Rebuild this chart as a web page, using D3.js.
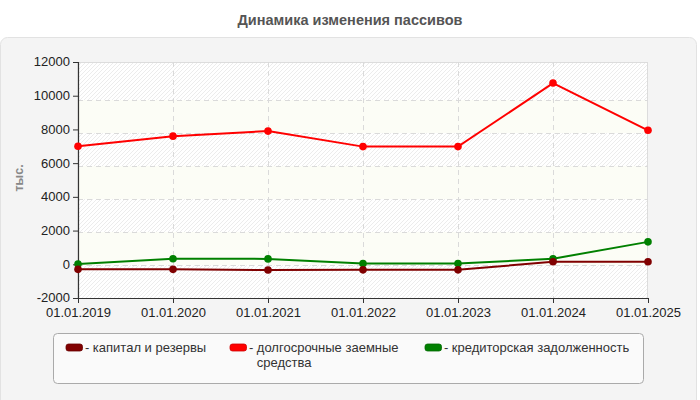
<!DOCTYPE html>
<html><head><meta charset="utf-8">
<script src="https://cdn.jsdelivr.net/npm/d3@7"></script>
<style>body{margin:0;background:#fff;}svg{display:block;font-family:"Liberation Sans",Arial,sans-serif;}</style>
</head><body><svg id="c" width="700" height="400"></svg>
<script>
const categories = ["01.01.2019","01.01.2020","01.01.2021","01.01.2022","01.01.2023","01.01.2024","01.01.2025"];
const capital = [-300, -300, -340, -330, -330, 150, 150];
const longTerm = [7000, 7600, 7900, 6980, 6980, 10750, 7950];
const payables = [20, 330, 320, 40, 40, 330, 1330];
const seriesNames = ["капитал и резервы", "долгосрочные заемные средства", "кредиторская задолженность"];
const seriesColors = ["#800000", "#ff0000", "#008000"];
const yTicks = [-2000, 0, 2000, 4000, 6000, 8000, 10000, 12000];
const title = "Динамика изменения пассивов";
const yLabel = "тыс.";

const svg = d3.select("#c");
const defs = svg.append("defs");
const pat = defs.append("pattern").attr("id","hatch").attr("patternUnits","userSpaceOnUse")
  .attr("width",4).attr("height",4);
pat.append("rect").attr("width",4).attr("height",4).attr("fill","#ffffff");
pat.append("path").attr("d","M-1,1 l2,-2 M0,4 l4,-4 M3,5 l2,-2").attr("stroke","#ececec").attr("stroke-width",1);

// outer panel
svg.append("rect").attr("x",0.5).attr("y",37.5).attr("width",696).attr("height",370).attr("rx",7)
  .attr("fill","#f4f4f4").attr("stroke","#e2e2e2");
svg.append("text").attr("x",350).attr("y",25).attr("text-anchor","middle")
  .attr("font-size",14.5).attr("font-weight","bold").attr("fill","#555").text(title);

const L=78, R=648, T=62, B=298;
const x = d3.scalePoint().domain(categories).range([L,R]);
const y = d3.scaleLinear().domain([-2000,12000]).range([B,T]);

// bands (grid step quirk of the original)
const step = Math.floor((B-T)/7);
const gridY = d3.range(1,7).map(k => B - k*step);
const bandEdges = [B, ...gridY, T];
for (let i=0;i<bandEdges.length-1;i++){
  svg.append("rect").attr("x",L).attr("y",bandEdges[i+1]).attr("width",R-L).attr("height",bandEdges[i]-bandEdges[i+1])
    .attr("fill", i%2===0 ? "url(#hatch)" : "#fcfdf6");
}
svg.append("rect").attr("x",L).attr("y",T+0.5).attr("width",R-L-0.5).attr("height",B-T).attr("fill","none").attr("stroke","#dcdcdc");

// grid
svg.append("g").selectAll("line").data(gridY).join("line")
  .attr("x1",L).attr("x2",R).attr("y1",d=>d+0.5).attr("y2",d=>d+0.5)
  .attr("stroke","#dadada").attr("stroke-dasharray","5,4");
svg.append("g").selectAll("line").data(categories.slice(1,-1)).join("line")
  .attr("x1",d=>x(d)+0.5).attr("x2",d=>x(d)+0.5).attr("y1",T).attr("y2",B)
  .attr("stroke","#dadada").attr("stroke-dasharray","5,4");

// axes
const ya = svg.append("g").attr("transform",`translate(${L},0)`)
  .call(d3.axisLeft(y).tickValues(yTicks).tickSize(5).tickPadding(3).tickFormat(d=>String(d)));
const xa = svg.append("g").attr("transform",`translate(0,${B})`)
  .call(d3.axisBottom(x).tickSize(5).tickPadding(5));
[ya,xa].forEach(a=>{
  a.select(".domain").attr("stroke","#333").attr("stroke-width",1.2);
  a.selectAll(".tick line").attr("stroke","#333");
  a.selectAll("text").attr("font-size",13).attr("fill","#222").attr("font-family","Liberation Sans, Arial, sans-serif");
});
xa.select(".domain").attr("d",`M${L},0.5H${R}`);
ya.select(".domain").attr("d",`M0.5,${T}V${B}`);
ya.selectAll(".tick text").attr("dy","0.3em");

svg.append("text").attr("transform","translate(23,178) rotate(-90)").attr("text-anchor","middle")
  .attr("font-size",12.5).attr("font-weight","bold").attr("fill","#888").text(yLabel);

// series
const all = [capital, longTerm, payables];
const line = d3.line().x((d,i)=>x(categories[i])).y(d=>y(d));
[payables, capital, longTerm].forEach(s=>{
  const idx = all.indexOf(s);
  const g = svg.append("g");
  g.append("path").datum(s).attr("d",line).attr("fill","none").attr("stroke",seriesColors[idx]).attr("stroke-width",2);
  g.selectAll("circle").data(s).join("circle").attr("cx",(d,i)=>x(categories[i])).attr("cy",d=>y(d))
    .attr("r",3.8).attr("fill",seriesColors[idx]);
});

// legend
svg.append("rect").attr("x",53.5).attr("y",333.5).attr("width",590).attr("height",50).attr("rx",4)
  .attr("fill","#fafafa").attr("stroke","#aaa");
const legX = [66, 230, 425];
const legLines = [["капитал и резервы"],["долгосрочные заемные","средства"],["кредиторская задолженность"]];
seriesNames.forEach((n,i)=>{
  const g = svg.append("g");
  g.append("rect").attr("x",legX[i]).attr("y",344).attr("width",16.5).attr("height",7).attr("rx",2.5)
    .attr("fill",seriesColors[i]).attr("stroke",d3.color(seriesColors[i]).darker(0.6)).attr("stroke-width",0.8);
  const dash = g.append("text").attr("x",legX[i]+19).attr("y",352).attr("font-size",13).attr("fill","#333").text("- ");
  const dw = dash.node().getComputedTextLength() + 3.5;
  legLines[i].forEach((ln,j)=>{
    g.append("text").attr("x",legX[i]+19+dw).attr("y",352 + j*14.5).attr("font-size",13).attr("fill","#333").text(ln);
  });
});
</script></body></html>
